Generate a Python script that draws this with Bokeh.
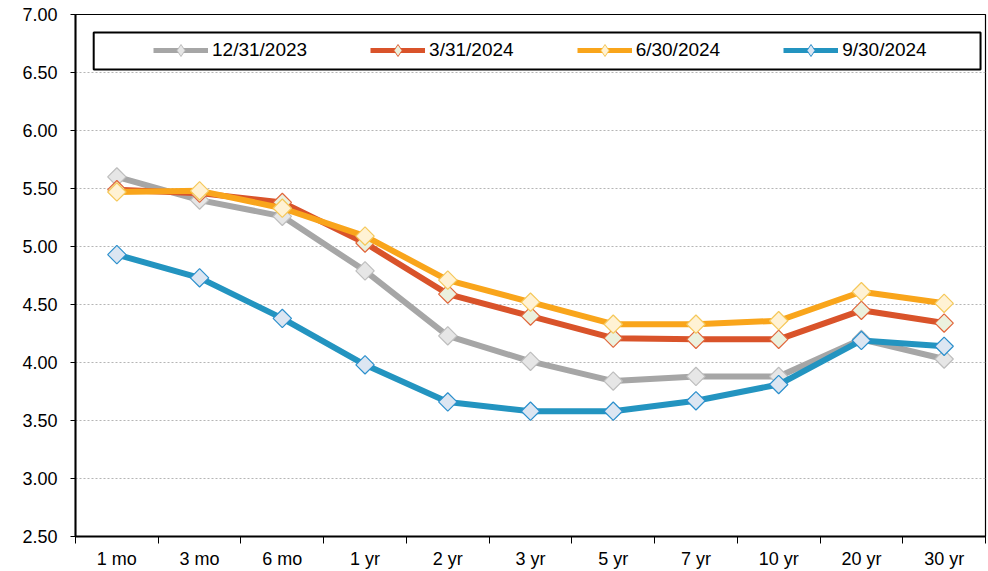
import math
from bokeh.plotting import figure
from bokeh.models import (Range1d, FixedTicker, NumeralTickFormatter, Legend, LegendItem,
                          BoxAnnotation, CustomJSTickFormatter)
from bokeh.embed import file_html
from bokeh.resources import INLINE

# ---- data ----
maturities = ["1 mo", "3 mo", "6 mo", "1 yr", "2 yr", "3 yr", "5 yr", "7 yr", "10 yr", "20 yr", "30 yr"]
dates = ["12/31/2023", "3/31/2024", "6/30/2024", "9/30/2024"]
y_dec23 = [5.60, 5.40, 5.26, 4.79, 4.23, 4.01, 3.84, 3.88, 3.88, 4.20, 4.03]
y_mar24 = [5.49, 5.46, 5.38, 5.03, 4.59, 4.40, 4.21, 4.20, 4.20, 4.45, 4.34]
y_jun24 = [5.47, 5.48, 5.33, 5.09, 4.71, 4.52, 4.33, 4.33, 4.36, 4.61, 4.51]
y_sep24 = [4.93, 4.73, 4.38, 3.98, 3.66, 3.58, 3.58, 3.67, 3.81, 4.19, 4.14]
y_ticks = [2.50, 3.00, 3.50, 4.00, 4.50, 5.00, 5.50, 6.00, 6.50, 7.00]

series = [y_dec23, y_mar24, y_jun24, y_sep24]
line_colors = ["#A6A6A6", "#D9532A", "#F9A51B", "#2394C0"]
marker_lines = ["#BDBDBD", "#E0653A", "#F5C85A", "#2B8FCC"]
marker_fills = ["#E6E6E6", "#EBF1DE", "#FFF2D4", "#DCE6F2"]

FONT = "Liberation Sans"

xs = [i + 0.5 for i in range(len(maturities))]

p = figure(width=988, height=571, output_backend="svg", toolbar_location=None,
           x_range=Range1d(0, len(maturities)), y_range=Range1d(y_ticks[0], y_ticks[-1]),
           min_border_left=75, min_border_right=3, min_border_top=14, min_border_bottom=35,
           background_fill_color="white", border_fill_color="white")

p.outline_line_color = "black"
p.outline_line_width = 1.2

# x axis
xa = p.xaxis[0]
xa.ticker = FixedTicker(ticks=xs, minor_ticks=list(range(len(maturities) + 1)))
xa.formatter = CustomJSTickFormatter(args=dict(labels=maturities),
                                     code="return labels[Math.floor(tick)] || '';")
xa.major_tick_line_color = None
xa.major_tick_in = 0
xa.major_tick_out = 0
xa.minor_tick_in = 0
xa.minor_tick_out = 7
xa.minor_tick_line_color = "black"
xa.minor_tick_line_width = 1
xa.axis_line_width = 2
xa.axis_line_color = "black"
xa.major_label_standoff = 5
xa.major_label_text_font = FONT
xa.major_label_text_font_size = "18px"
xa.major_label_text_color = "black"

# y axis
ya = p.yaxis[0]
ya.ticker = FixedTicker(ticks=y_ticks)
ya.formatter = NumeralTickFormatter(format="0.00")
ya.major_tick_in = 0
ya.major_tick_out = 5
ya.major_tick_line_color = "black"
ya.minor_tick_line_color = None
ya.axis_line_width = 2
ya.axis_line_color = "black"
ya.major_label_standoff = 13
ya.major_label_text_font = FONT
ya.major_label_text_font_size = "18px"
ya.major_label_text_color = "black"

p.xgrid.visible = False
p.ygrid.grid_line_color = "#B5B5B5"
p.ygrid.grid_line_dash = "2 2"
p.ygrid.grid_line_width = 1

items = []
for ys, lc, ml, mf, lab in zip(series, line_colors, marker_lines, marker_fills, dates):
    lr = p.line(xs, ys, line_color=lc, line_width=6)
    p.scatter(xs, ys, marker="square", angle=math.pi / 4, size=13,
              fill_color=mf, line_color=ml, line_width=1.2)
    # legend-only glyphs (hidden on the plot)
    ll = p.line(xs, ys, line_color=lc, line_width=5, visible=False)
    ls = p.scatter(xs, ys, marker="diamond", size=12, fill_color=mf, line_color=ml,
                   line_width=1, visible=False)
    items.append(LegendItem(label=lab, renderers=[ll, ls]))

legend = Legend(items=items, orientation="horizontal", location=(78, 471),
                glyph_width=55, glyph_height=30, label_standoff=4, spacing=63,
                padding=0, margin=0, border_line_alpha=0, background_fill_alpha=0,
                label_text_font=FONT, label_text_font_size="19px", label_text_color="black")
p.add_layout(legend)

box = BoxAnnotation(left=0.22, right=10.94, top=6.845, bottom=6.526,
                    fill_alpha=0, line_color="black", line_alpha=1, line_width=2)
p.add_layout(box)

open("out.html", "w").write(file_html(p, INLINE))
